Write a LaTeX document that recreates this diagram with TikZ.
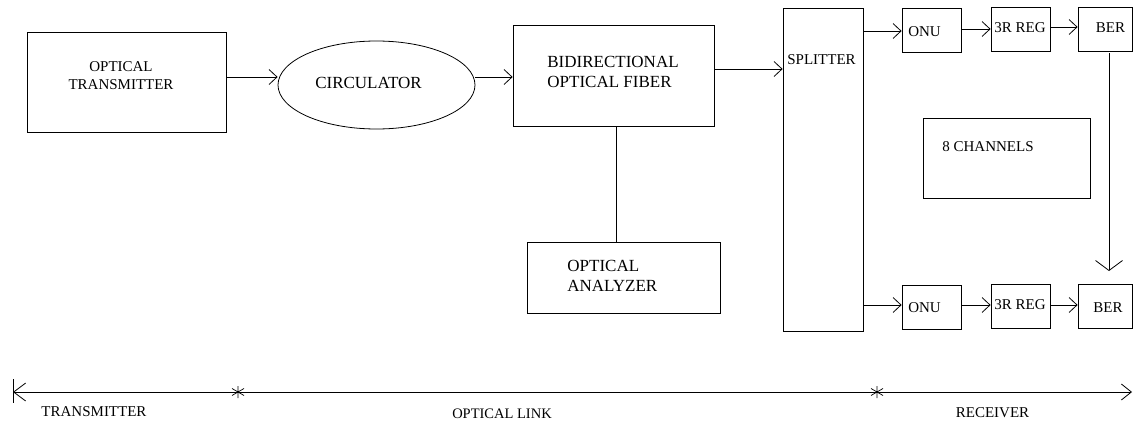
\documentclass[tikz,border=0pt]{standalone}
\usepackage{fontspec}
\setmainfont{Liberation Serif}
\usetikzlibrary{arrows.meta,shapes.geometric}
\begin{document}
\begin{tikzpicture}[x=1pt,y=-1pt,line width=0.8pt,
  box/.style={draw,rectangle,inner sep=0pt},
  txt/.style={inner sep=0pt,font=\fontsize{15}{18}\selectfont},
  big/.style={inner sep=0pt,font=\fontsize{17}{20}\selectfont},
  arr/.style={-{Straight Barb[length=8pt,width=15pt,line width=0.8pt]}},
  star/.pic={\draw[line width=0.7pt] (0,-6) -- (0,6) (-6,-3.5) -- (6,3.5) (-6,3.5) -- (6,-3.5);}]
\useasboundingbox (0,0) rectangle (1133,423);
% transmitter
\node[box,minimum width=199pt,minimum height=100pt] (tx) at (126.5,82) {};
\node[txt,align=center] (txl) at (121,76) {OPTICAL\\TRANSMITTER};
% circulator
\node[draw,ellipse,minimum width=197pt,minimum height=88pt,inner sep=0pt] (circ) at (376.5,85) {};
\node[big] (circl) at (368.5,83) {CIRCULATOR};
% fiber
\node[box,minimum width=201pt,minimum height=101pt] (fib) at (613.5,75.5) {};
\node[big,align=left,anchor=west] (fibl) at (547,72) {BIDIRECTIONAL\\OPTICAL FIBER};
% analyzer
\node[box,minimum width=193pt,minimum height=71pt] (oa) at (623.5,277.5) {};
\node[big,align=left,anchor=west] (oal) at (567,275.5) {OPTICAL\\ANALYZER};
% splitter
\node[box,minimum width=80pt,minimum height=323pt] (sp) at (823,169.5) {};
\node[txt] (spl) at (821.5,60) {SPLITTER};
% top row
\node[box,minimum width=59pt,minimum height=44pt] (onu1) at (931.5,30) {};
\node[txt] (onu1l) at (924.5,32) {ONU};
\node[box,minimum width=59pt,minimum height=44pt] (reg1) at (1020.5,29) {};
\node[txt] (reg1l) at (1020,28) {3R REG};
\node[box,minimum width=54.5pt,minimum height=44pt] (ber1) at (1105.25,29) {};
\node[txt] (ber1l) at (1110.5,28) {BER};
% bottom row
\node[box,minimum width=59pt,minimum height=44pt] (onu2) at (931.5,307) {};
\node[txt] (onu2l) at (924.5,308) {ONU};
\node[box,minimum width=59pt,minimum height=44pt] (reg2) at (1020.5,306) {};
\node[txt] (reg2l) at (1020,305) {3R REG};
\node[box,minimum width=54.5pt,minimum height=44pt] (ber2) at (1105.25,306) {};
\node[txt] (ber2l) at (1108,308) {BER};
% 8 channels
\node[box,minimum width=167pt,minimum height=80pt] (ch) at (1006.5,158) {};
\node[txt,anchor=west] (chl) at (942,147) {8 CHANNELS};
% connectors
\draw[arr] (tx.east |- 0,77) -- (circ.west |- 0,77);
\draw[arr] (circ.east |- 0,77) -- (fib.west |- 0,77);
\draw[arr] (fib.east |- 0,69) -- (sp.west |- 0,69);
\draw (fib.south -| 616,0) -- (oa.north -| 616,0);
\draw[arr] (sp.east |- 0,31) -- (onu1.west |- 0,31);
\draw[arr] (onu1.east |- 0,29) -- (reg1.west |- 0,29);
\draw[arr] (reg1.east |- 0,27) -- (ber1.west |- 0,27);
\draw[arr] (sp.east |- 0,305) -- (onu2.west |- 0,305);
\draw[arr] (onu2.east |- 0,305) -- (reg2.west |- 0,305);
\draw[arr] (reg2.east |- 0,305) -- (ber2.west |- 0,305);
\coordinate (bend) at (1109,271);
\draw[-{Straight Barb[length=10pt,width=27pt,line width=0.8pt]}] (ber1.south -| 1109,0) ++(0,2) -- (bend);
% bottom scale
\coordinate (L) at (13,392);
\coordinate (R) at (1132,392);
\draw[{Straight Barb[length=12pt,width=18pt,line width=0.8pt]}-{Straight Barb[length=10pt,width=16pt,line width=0.8pt]}] (L) -- (R);
\draw (13,379) -- (13,403);
\pic at (238,392) {star};
\pic at (877,392) {star};
\node[txt] (lt) at (94,412) {TRANSMITTER};
\node[txt,font=\fontsize{14.5}{17}\selectfont] (ll) at (502,414) {OPTICAL LINK};
\node[txt] (lr) at (992.5,413) {RECEIVER};
\end{tikzpicture}
\end{document}
